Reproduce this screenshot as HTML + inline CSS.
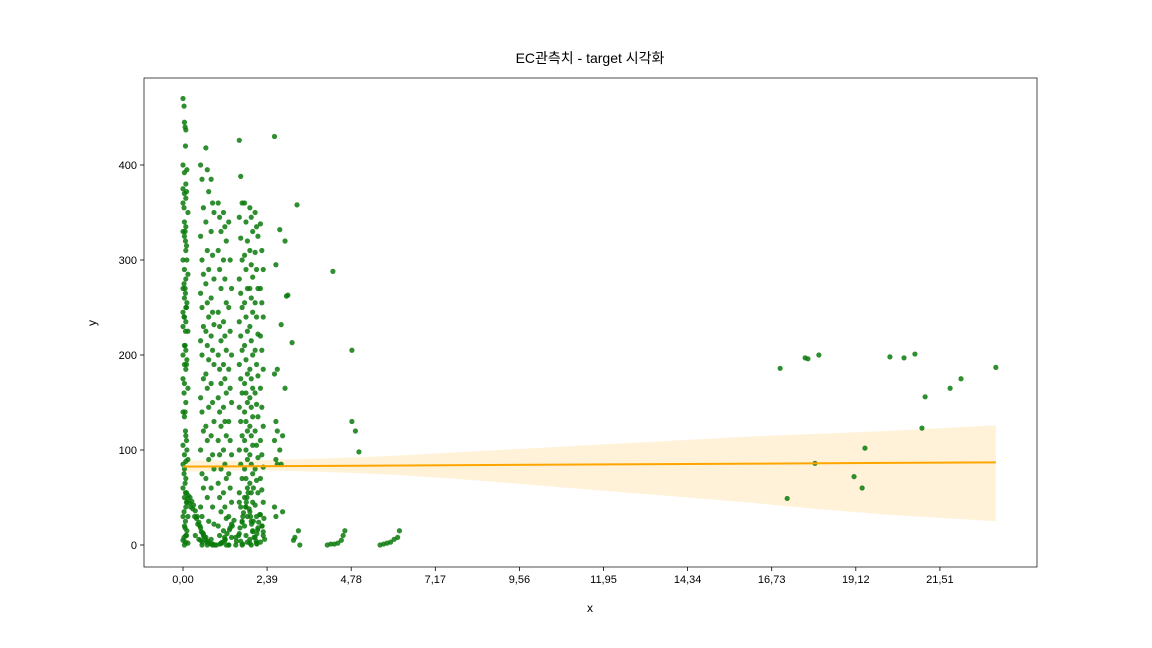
<!DOCTYPE html>
<html><head><meta charset="utf-8">
<style>
body{margin:0;background:#fff;}
svg{display:block;font-family:"Liberation Sans","Noto Sans CJK KR",sans-serif;}
</style></head>
<body>
<svg id="chart" width="1152" height="648" viewBox="0 0 1152 648">
<rect width="1152" height="648" fill="#fff"/>
<text x="590" y="63" font-size="14" text-anchor="middle" fill="#000">EC관측치 - target 시각화</text>
<g id="band"></g><g id="pts"></g><g id="line"></g><g id="axes"></g>
<text x="590" y="612" font-size="12" text-anchor="middle">x</text>
<text x="96" y="323" font-size="12" text-anchor="middle" transform="rotate(-90 96 323)">y</text>
</svg>
<script>
const colX = [0.0,0.03,0.06,0.5,0.65,0.8,1.0,1.15,1.3,1.6,1.75,1.9,2.05,2.2,2.6,2.75,2.9,3.1,3.24];
const colY = [
[470,445,437,400,392,380,375,370,365,360,340,335,330,325,310,300,290,280,270,260,250,245,240,235,230,210,205,200,190,185,175,170,150,140,135,115,105,95,88,85,80,70,60,50,40,30,20,10,5,0],
[462,420,395,355,320,300,275,265,255,240,225,195,160,120,100,75,55,45,35,25,15,8,3],
[440,372,350,330,315,285,270,250,225,210,190,165,140,110,90,65,45,30,18,10,2],
[400,385,355,325,300,285,265,250,230,215,200,175,155,140,120,100,75,60,40,30,12,5,0],
[418,395,372,340,310,290,275,255,240,225,210,195,180,165,145,125,110,90,70,50,25,8,0],
[385,360,350,330,305,280,260,245,232,220,205,190,170,150,130,115,95,80,60,40,22,6,0],
[360,345,330,310,290,270,245,230,215,200,185,170,155,140,125,110,95,80,65,50,35,20,10,2],
[350,335,320,300,280,255,235,220,205,190,175,160,145,130,115,100,85,70,55,40,28,15,5,0],
[340,300,270,250,225,200,185,165,150,130,110,95,75,60,45,30,18,8,0],
[426,388,360,345,323,300,280,265,250,235,220,205,190,175,160,145,130,115,100,85,70,55,40,25,12,4,0],
[360,340,320,305,290,270,255,240,225,210,195,180,170,160,150,140,130,120,110,100,90,80,70,60,50,40,30,20,10,3],
[355,345,330,310,295,282,270,260,245,230,215,200,185,175,165,155,145,135,125,115,105,95,85,75,65,55,45,35,25,15,6,0],
[350,335,325,308,290,270,255,240,222,205,190,178,160,148,135,120,105,92,80,68,55,42,30,18,8,2],
[338,310,290,270,255,240,220,205,185,165,145,125,110,95,82,70,58,45,32,20,10,3],
[430,295,185,180,130,120,110,90,85,40,30],
[332,232,115,100,85,35],
[320,262,263,165],
[213,5,8],
[358,15,0]
];
const sparseX = [4.1,4.2,4.3,4.4,4.5,4.55,4.6,4.26,4.8,4.8,4.9,5.0,5.6,5.7,5.8,5.9,6.0,6.1,6.15,16.97,17.17,17.68,17.76,17.96,18.07,19.07,19.3,19.38,20.09,20.49,20.8,21.0,21.09,21.8,22.11,23.1];
const sparseY = [0,1,1,2,5,10,15,288,205,130,120,98,0,1,2,3,6,8,15,186,49,197,196,86,200,72,60,102,198,197,201,123,156,165,175,187];
const arcX = [0.1,0.15,0.2,0.25,0.3,0.35,0.4,0.45,0.5,0.55,0.6,0.7,0.8,0.9,1.1,1.2,1.4,1.5,1.7,1.8,2.0,2.1,2.3];
const arcY = [55,52,50,46,42,36,30,24,18,13,9,4,1,0,2,6,20,8,30,45,25,12,28];
const lowX = [0.12,0.18,0.22,0.28,0.33,0.38,0.42,0.48,0.52,0.58,0.62,0.68,0.75,0.85,0.95,1.05,1.12,1.18,1.25,1.32,1.38,1.45,1.52,1.58,1.62,1.68,1.72,1.78,1.82,1.85,1.88,1.92,1.95,1.98,2.02,2.08,2.12,2.15,2.18,2.25,2.28,2.32,0.35,0.45,0.55,1.3,1.5,1.7,1.9,2.1,2.0,1.6];
const lowY = [48,44,40,38,30,28,22,20,14,10,6,3,2,1,0,1,3,8,12,16,22,26,4,10,18,24,34,40,50,55,38,30,22,14,8,4,16,24,32,20,14,6,10,6,3,0,0,1,2,1,60,45];
const fitX = [0, 23.1];
const fitY = [82.5, 87];
const bandX = [0,2,4,6,8,10,12,14,16,18,20,23.1];
const bandLo = [77,79,77,74,69,63,57,51,45,38,32,25];
const bandHi = [89,89,91,94,98,102,106,110,114,117,120,126];
const xTicks = ["0,00","2,39","4,78","7,17","9,56","11,95","14,34","16,73","19,12","21,51"];
const yTicks = [0,100,200,300,400];

const NS="http://www.w3.org/2000/svg";
const L=144,R=1037,T=78,B=567;
const xs=v=>183+v*(84.1/2.39);
const ys=v=>545-v*0.95;
function mk(tag,attrs,parent){const e=document.createElementNS(NS,tag);for(const k in attrs)e.setAttribute(k,attrs[k]);parent.appendChild(e);return e;}

let d="M"+bandX.map((x,i)=>xs(x)+","+ys(bandHi[i])).join("L");
for(let i=bandX.length-1;i>=0;i--)d+="L"+xs(bandX[i])+","+ys(bandLo[i]);
const band=mk("path",{d:d+"Z",fill:"#ffa500","fill-opacity":"0.15"},document.getElementById("band"));



const pg=document.getElementById("pts");
function dot(x,y){const c=mk("circle",{cx:xs(x),cy:ys(y),r:2.6,fill:"#0a7a0a","fill-opacity":"0.85"},pg);

}
colX.forEach((x,i)=>colY[i].forEach((y,j)=>dot(x+(j%3)*0.04,y)));
sparseX.forEach((x,i)=>dot(x,sparseY[i]));
arcX.forEach((x,i)=>dot(x,arcY[i]));
lowX.forEach((x,i)=>dot(x,lowY[i]));

const ln=mk("line",{x1:xs(fitX[0]),y1:ys(fitY[0]),x2:xs(fitX[1]),y2:ys(fitY[1]),stroke:"#ffa500","stroke-width":2},document.getElementById("line"));



const ax=document.getElementById("axes");
const fr=mk("rect",{x:L,y:T,width:R-L,height:B-T,fill:"none",stroke:"#000","stroke-width":0.7},ax);


xTicks.forEach((t,i)=>{const x=xs(i*2.39);
mk("line",{x1:x,x2:x,y1:B,y2:B+4,stroke:"#000","stroke-width":0.8},ax);
const tx=mk("text",{x:x,y:B+16,"font-size":11,"text-anchor":"middle"},ax);tx.textContent=t;

});
yTicks.forEach(v=>{const y=ys(v);
mk("line",{x1:L-4,x2:L,y1:y,y2:y,stroke:"#000","stroke-width":0.8},ax);
const tx=mk("text",{x:L-7,y:y+4,"font-size":11,"text-anchor":"end"},ax);tx.textContent=v;

});
</script>
</body></html>
